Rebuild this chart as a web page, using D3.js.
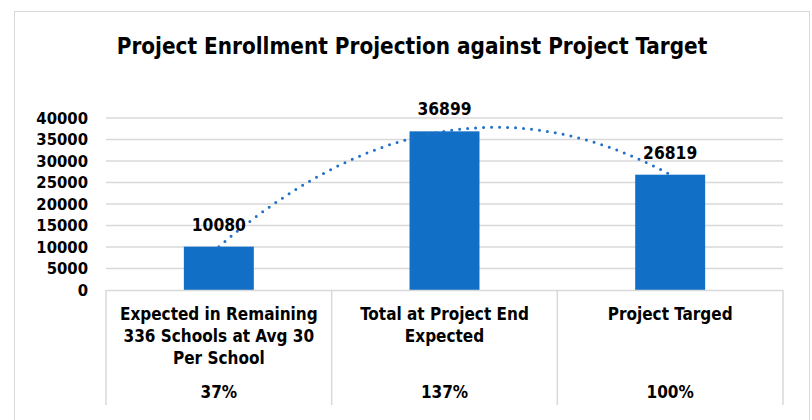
<!DOCTYPE html>
<html>
<head>
<meta charset="utf-8">
<script src="https://cdn.jsdelivr.net/npm/d3@7"></script>
<style>
body { margin: 0; background: #fff; }
text { font-family: "DejaVu Sans Condensed", "DejaVu Sans", sans-serif; font-stretch: condensed; fill: #000; }
</style>
</head>
<body>
<script>
// data
var categories = ["Expected in Remaining 336 Schools at Avg 30 Per School", "Total at Project End Expected", "Project Targed"];
var labelLines = [["Expected in Remaining", "336 Schools at Avg 30", "Per School"], ["Total at Project End", "Expected"], ["Project Targed"]];
var values = [10080, 36899, 26819];
var percents = ["37%", "137%", "100%"];
var yTicks = [0, 5000, 10000, 15000, 20000, 25000, 30000, 35000, 40000];

var W = 812, H = 420;
var plot = {left: 106, right: 783, top: 118, bottom: 290};

var svg = d3.select("body").append("svg")
	.attr("width", W)
	.attr("height", H);

// chart frame
svg.append("rect")
	.attr("x", 14.5).attr("y", 11.5)
	.attr("width", 795).attr("height", 430)
	.attr("fill", "#fff")
	.attr("stroke", "#d9d9d9");

svg.append("text")
	.attr("x", 412).attr("y", 54)
	.attr("text-anchor", "middle")
	.style("font-size", "22.3px")
	.style("font-weight", "bold")
	.text("Project Enrollment Projection against Project Target");

var x = d3.scaleBand()
	.domain(categories)
	.range([plot.left, plot.right]);

var y = d3.scaleLinear()
	.domain([0, 40000])
	.range([plot.bottom, plot.top]);

// gridlines
svg.append("g").selectAll("line")
	.data(yTicks.slice(1))
	.enter().append("line")
	.attr("x1", plot.left).attr("x2", plot.right)
	.attr("y1", function(d){ return y(d); })
	.attr("y2", function(d){ return y(d); })
	.attr("stroke", "#d9d9d9")
	.attr("stroke-width", 1.5);

// y axis labels
var yAxis = d3.axisLeft(y).tickValues(yTicks).tickSize(0).tickPadding(0).tickFormat(d3.format("d"));
var ya = svg.append("g")
	.attr("transform", "translate(88,0)")
	.call(yAxis);
ya.select(".domain").remove();
ya.selectAll("text")
	.style("font-size", "16.5px")
	.style("font-weight", "bold")
	.style("font-family", null)
	.attr("fill", "#000");

// bars
var barW = x.bandwidth() * 0.31;
svg.append("g").selectAll("rect")
	.data(values)
	.enter().append("rect")
	.attr("x", function(d, i){ return x(categories[i]) + (x.bandwidth() - barW) / 2; })
	.attr("y", function(d){ return y(d); })
	.attr("width", barW)
	.attr("height", function(d){ return y(0) - y(d); })
	.attr("fill", "#1170c6");

// polynomial (order 2) trendline fitted to the values
function polyfit2(xs, ys) {
	var n = xs.length, s = [0,0,0,0,0], t = [0,0,0];
	for (var i = 0; i < n; i++) {
		for (var k = 0; k < 5; k++) s[k] += Math.pow(xs[i], k);
		for (var k = 0; k < 3; k++) t[k] += ys[i] * Math.pow(xs[i], k);
	}
	var A = [[s[0], s[1], s[2], t[0]], [s[1], s[2], s[3], t[1]], [s[2], s[3], s[4], t[2]]];
	for (var c = 0; c < 3; c++) {
		for (var r = c + 1; r < 3; r++) {
			var f = A[r][c] / A[c][c];
			for (var k = c; k < 4; k++) A[r][k] -= f * A[c][k];
		}
	}
	var co = [0,0,0];
	for (var r = 2; r >= 0; r--) {
		var v = A[r][3];
		for (var k = r + 1; k < 3; k++) v -= A[r][k] * co[k];
		co[r] = v / A[r][r];
	}
	return co;
}
var idx = values.map(function(d, i){ return i + 1; });
var co = polyfit2(idx, values);
var xi = d3.scaleLinear().domain([1, 3])
	.range([x(categories[0]) + x.bandwidth() / 2, x(categories[2]) + x.bandwidth() / 2]);
var trend = d3.range(1, 3.001, 0.02).map(function(t){ return [t, co[0] + co[1] * t + co[2] * t * t]; });
svg.append("path")
	.datum(trend)
	.attr("d", d3.line().x(function(d){ return xi(d[0]); }).y(function(d){ return y(d[1]); }).curve(d3.curveLinear))
	.attr("fill", "none")
	.attr("stroke", "#1f70c8")
	.attr("stroke-width", 3)
	.attr("stroke-linecap", "round")
	.attr("stroke-dasharray", "0 8");

// value labels
svg.append("g").selectAll("text")
	.data(values)
	.enter().append("text")
	.attr("x", function(d, i){ return x(categories[i]) + x.bandwidth() / 2; })
	.attr("y", function(d){ return y(d) - 16; })
	.attr("text-anchor", "middle")
	.style("font-size", "17.3px")
	.style("font-weight", "bold")
	.text(function(d){ return d; });

// category table
var tbl = svg.append("g");
tbl.append("line")
	.attr("x1", plot.left).attr("x2", plot.right)
	.attr("y1", plot.bottom + 0.5).attr("y2", plot.bottom + 0.5)
	.attr("stroke", "#d9d9d9").attr("stroke-width", 1.5);
var edges = categories.map(function(c){ return x(c); }).concat([plot.right]);
tbl.selectAll(".vline")
	.data(edges)
	.enter().append("line")
	.attr("class", "vline")
	.attr("x1", function(d){ return d; }).attr("x2", function(d){ return d; })
	.attr("y1", plot.bottom).attr("y2", 405)
	.attr("stroke", "#d9d9d9").attr("stroke-width", 1.5);

var cat = tbl.selectAll(".cat")
	.data(categories)
	.enter().append("g")
	.attr("class", "cat");
cat.each(function(c, i){
	var g = d3.select(this);
	var cx = x(c) + x.bandwidth() / 2;
	g.selectAll("text.l")
		.data(labelLines[i])
		.enter().append("text")
		.attr("class", "l")
		.attr("x", cx)
		.attr("y", function(d, j){ return 320 + j * 22; })
		.attr("text-anchor", "middle")
		.style("font-size", "17px")
		.style("font-weight", "bold")
		.text(function(d){ return d; });
	g.append("text")
		.attr("x", cx)
		.attr("y", 398)
		.attr("text-anchor", "middle")
		.style("font-size", "17px")
		.style("font-weight", "bold")
		.text(percents[i]);
});
</script>
</body>
</html>
